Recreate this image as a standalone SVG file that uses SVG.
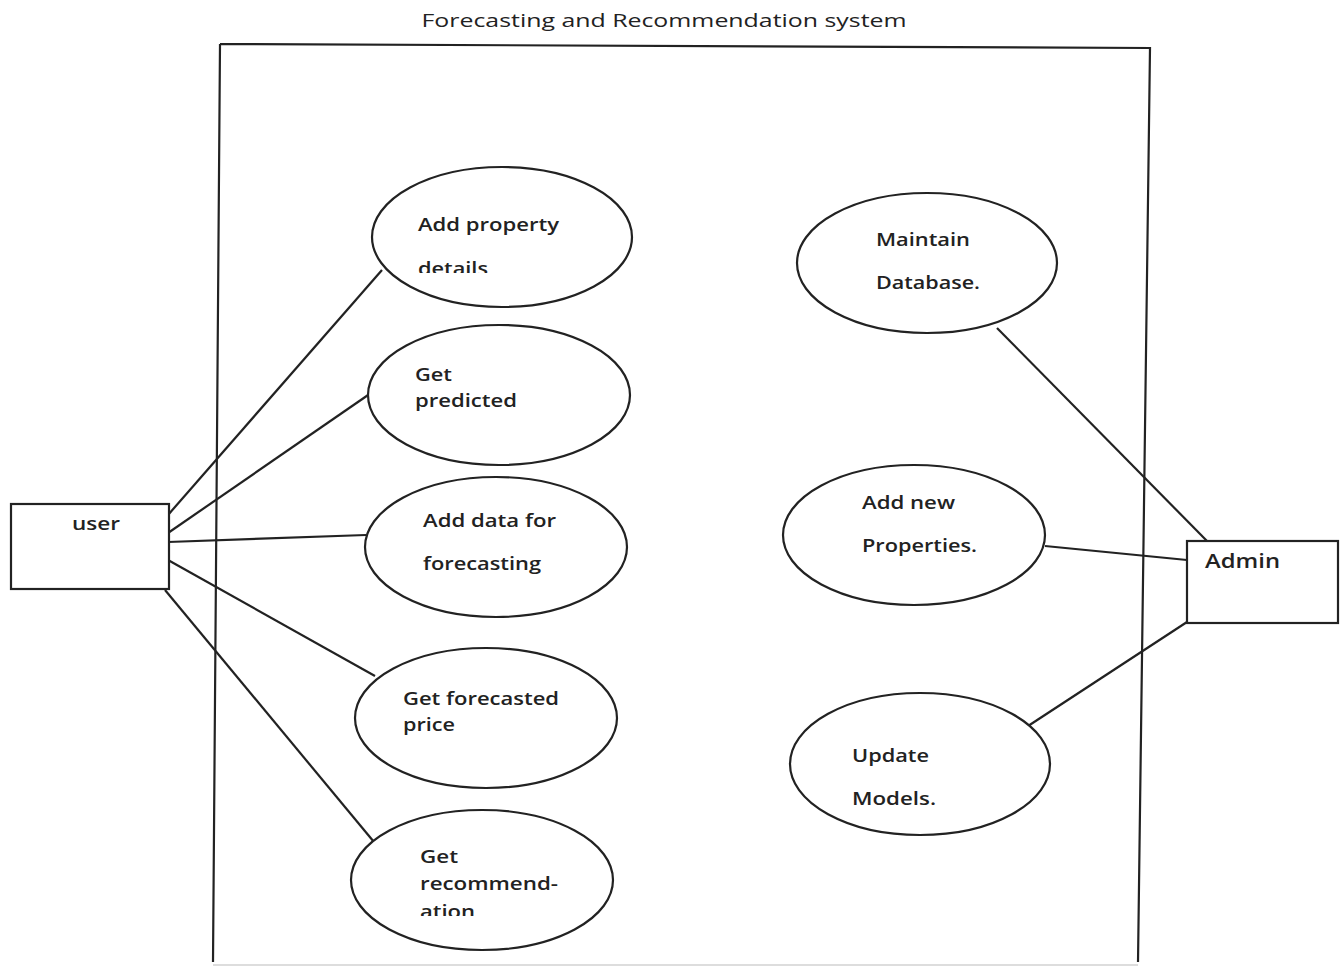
<svg xmlns="http://www.w3.org/2000/svg" width="1343" height="967" viewBox="0 0 1343 967">
<style>
.uc{fill:#fff;stroke:#222;stroke-width:2.2}
.act{fill:#fff;stroke:#222;stroke-width:2.2}
.t{font-family:"Open Sans","DejaVu Sans",sans-serif;font-size:18px;fill:#222;font-weight:600}
.title{font-family:"Open Sans","Liberation Sans",sans-serif;font-size:18px;fill:#222}
.ln{stroke:#222;stroke-width:2.2;fill:none}
</style>
<defs>
<clipPath id="c1"><rect x="300" y="150" width="400" height="123"/></clipPath>
<clipPath id="c5"><rect x="300" y="800" width="400" height="116"/></clipPath>
</defs>
<rect width="1343" height="967" fill="#fff"/>
<g id="system">
<path class="ln" d="M220,44 L1150,48 L1138,962 M220,44 L213,962"/>
<line x1="213" y1="965" x2="1138" y2="965" stroke="#ddd" stroke-width="2"/>
<text class="title" x="664" y="27" text-anchor="middle" textLength="485" lengthAdjust="spacingAndGlyphs">Forecasting and Recommendation system</text>
</g>
<g id="connectors">
<line class="ln" x1="168" y1="515" x2="382" y2="270"/>
<line class="ln" x1="168" y1="533" x2="371" y2="393"/>
<line class="ln" x1="168" y1="542" x2="366" y2="535"/>
<line class="ln" x1="168" y1="560" x2="375" y2="676"/>
<line class="ln" x1="165" y1="590" x2="374" y2="842"/>
<line class="ln" x1="997" y1="328" x2="1207" y2="541"/>
<line class="ln" x1="1045" y1="546" x2="1187" y2="560"/>
<line class="ln" x1="1025" y1="728" x2="1187" y2="622"/>
</g>
<g id="user">
<rect class="act" x="11" y="504" width="158" height="85"/>
<text class="t" x="72" y="530" textLength="48" lengthAdjust="spacingAndGlyphs">user</text>
</g>
<g id="admin">
<rect class="act" x="1187" y="541" width="151" height="82"/>
<text class="t" x="1205" y="568" style="font-size:19px" textLength="75" lengthAdjust="spacingAndGlyphs">Admin</text>
</g>
<g id="uc-add-property">
<ellipse class="uc" cx="502" cy="237" rx="130" ry="70"/>
<text class="t" x="418" y="231" textLength="141" lengthAdjust="spacingAndGlyphs">Add property</text>
<text class="t" x="418" y="275" clip-path="url(#c1)" textLength="70" lengthAdjust="spacingAndGlyphs">details</text>
</g>
<g id="uc-get-predicted">
<ellipse class="uc" cx="499" cy="395" rx="131" ry="70"/>
<text class="t" x="415" y="381" textLength="37" lengthAdjust="spacingAndGlyphs">Get</text>
<text class="t" x="415" y="407" textLength="102" lengthAdjust="spacingAndGlyphs">predicted</text>
</g>
<g id="uc-add-data">
<ellipse class="uc" cx="496" cy="547" rx="131" ry="70"/>
<text class="t" x="423" y="527" textLength="133" lengthAdjust="spacingAndGlyphs">Add data for</text>
<text class="t" x="423" y="570" textLength="118" lengthAdjust="spacingAndGlyphs">forecasting</text>
</g>
<g id="uc-forecasted-price">
<ellipse class="uc" cx="486" cy="718" rx="131" ry="70"/>
<text class="t" x="403" y="705" textLength="156" lengthAdjust="spacingAndGlyphs">Get forecasted</text>
<text class="t" x="403" y="731" textLength="52" lengthAdjust="spacingAndGlyphs">price</text>
</g>
<g id="uc-recommendation">
<ellipse class="uc" cx="482" cy="880" rx="131" ry="70"/>
<text class="t" x="420" y="863" textLength="38" lengthAdjust="spacingAndGlyphs">Get</text>
<text class="t" x="420" y="890" textLength="138" lengthAdjust="spacingAndGlyphs">recommend-</text>
<text class="t" x="420" y="918" clip-path="url(#c5)" textLength="55" lengthAdjust="spacingAndGlyphs">ation</text>
</g>
<g id="uc-maintain-db">
<ellipse class="uc" cx="927" cy="263" rx="130" ry="70"/>
<text class="t" x="876" y="246" textLength="94" lengthAdjust="spacingAndGlyphs">Maintain</text>
<text class="t" x="876" y="289" textLength="104" lengthAdjust="spacingAndGlyphs">Database.</text>
</g>
<g id="uc-add-properties">
<ellipse class="uc" cx="914" cy="535" rx="131" ry="70"/>
<text class="t" x="862" y="509" textLength="93" lengthAdjust="spacingAndGlyphs">Add new</text>
<text class="t" x="862" y="552" textLength="115" lengthAdjust="spacingAndGlyphs">Properties.</text>
</g>
<g id="uc-update-models">
<ellipse class="uc" cx="920" cy="764" rx="130" ry="71"/>
<text class="t" x="852" y="762" textLength="77" lengthAdjust="spacingAndGlyphs">Update</text>
<text class="t" x="852" y="805" textLength="84" lengthAdjust="spacingAndGlyphs">Models.</text>
</g>
</svg>
